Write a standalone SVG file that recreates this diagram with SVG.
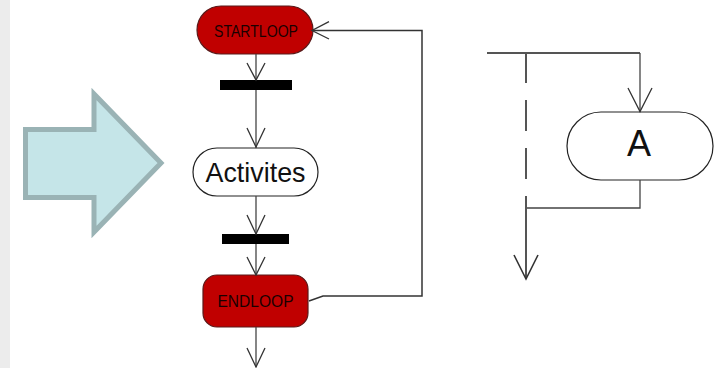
<svg xmlns="http://www.w3.org/2000/svg" width="717" height="368" viewBox="0 0 717 368">
<style>
.red{fill:#c00000;stroke:#5a1a1a;stroke-width:1.2}
.redtxt{font-family:"Liberation Sans",Arial,sans-serif;fill:#1a0000;text-anchor:middle}
.white{fill:#fff;stroke:#222;stroke-width:1.2}
.txt{font-family:"Liberation Sans",Arial,sans-serif;fill:#111;text-anchor:middle}
.bar{fill:#000}
.ln{fill:none;stroke:#444;stroke-width:1.3}
.lnd{fill:none;stroke:#333;stroke-width:1.5}
.ah{fill:none;stroke:#333;stroke-width:1.3}
.thick{fill:none;stroke:#555;stroke-width:2}
</style>
<rect x="0" y="0" width="717" height="368" fill="#fff"/>
<rect x="0" y="0" width="10" height="368" fill="#ececec"/>
<g id="bigarrow">
<polygon points="25.5,129.5 94,129.5 94,94 161,163 94,232 94,197.5 25.5,197.5" fill="#c5e5e8" stroke="#9ab3b5" stroke-width="5"/>
</g>
<g id="startloop">
<rect x="197" y="6" width="116" height="48" rx="24" class="red"/>
<text x="256" y="36.5" class="redtxt" font-size="16.5" textLength="84" lengthAdjust="spacingAndGlyphs">STARTLOOP</text>
</g>
<g id="fork1"><rect x="220" y="80" width="72" height="10" class="bar"/></g>
<g id="activites">
<rect x="193" y="148" width="125" height="48" rx="24" class="white"/>
<text x="255.5" y="181.5" class="txt" font-size="28" textLength="100" lengthAdjust="spacingAndGlyphs">Activites</text>
</g>
<g id="fork2"><rect x="222" y="234" width="67" height="10" class="bar"/></g>
<g id="endloop">
<rect x="203" y="275" width="105" height="52" rx="14" class="red"/>
<text x="255.5" y="307" class="redtxt" font-size="16" textLength="76" lengthAdjust="spacingAndGlyphs">ENDLOOP</text>
</g>
<g id="a">
<rect x="567" y="112" width="146" height="68" rx="34" class="white"/>
<text x="639" y="156" class="txt" font-size="36">A</text>
</g>
<g id="connectors">
<path class="ln" d="M256,54 V80"/>
<path class="ah" d="M247,63 L256,80 L265,63"/>
<path class="ln" d="M256,90 V148"/>
<path class="ah" d="M247,128 L256,147 L265,128"/>
<path class="ln" d="M256,196 V234"/>
<path class="ah" d="M247,215 L256,234 L265,215"/>
<path class="ln" d="M256,244 V275"/>
<path class="ah" d="M247,257 L256,275 L265,257"/>
<path class="ln" d="M256,327 V367"/>
<path class="ah" d="M247,348 L256,367 L265,348"/>
<path class="lnd" d="M309,301 L323,296 H422 V30.5 H313"/>
<path class="ah" d="M329,21.7 L312,30.5 L329,39"/>
<path class="thick" d="M487,53 H640"/>
<path class="ln" d="M640,53 V112"/>
<path class="ah" d="M628,88 L640,111.5 L652,88"/>
<path class="thick" d="M526,52 V208" stroke-dasharray="31 17"/>
<path class="ln" d="M640,180 V208 H526"/>
<path class="thick" d="M526,197 V279"/>
<path class="ah" d="M514,255 L526,279 L538,255" style="stroke-width:1.6"/>
</g>
</svg>
